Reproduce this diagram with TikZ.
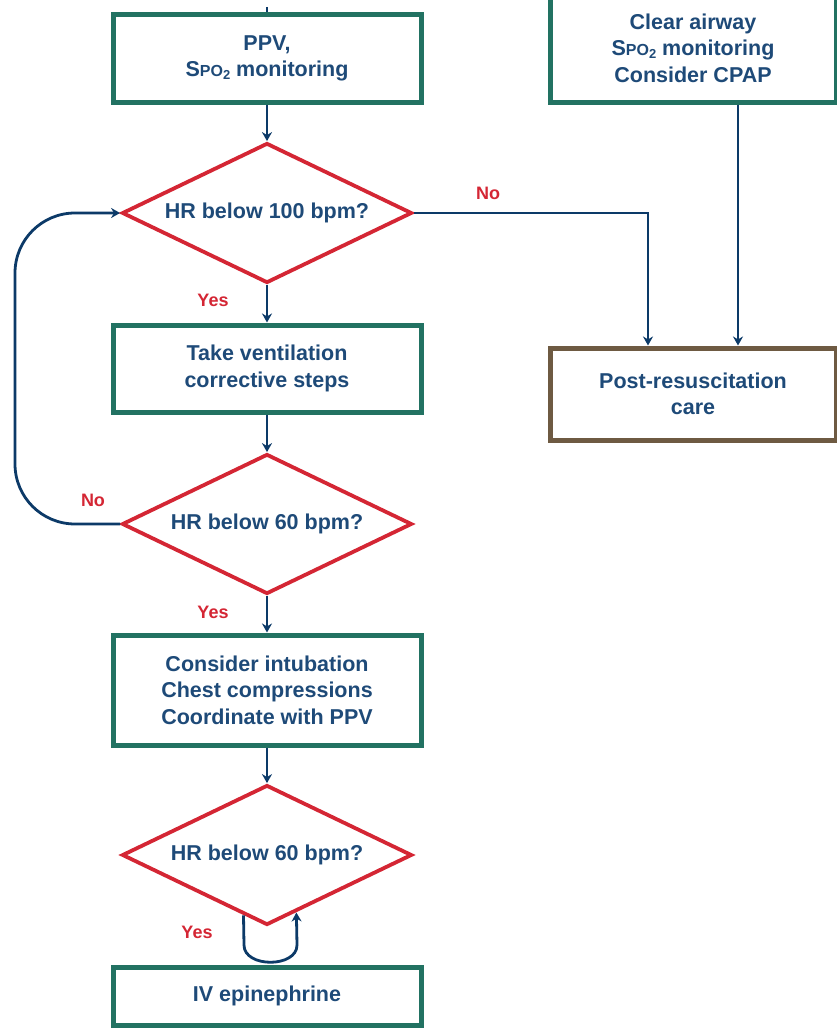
\documentclass[tikz,border=0pt]{standalone}
\usepackage{fontspec}
\setmainfont{Liberation Sans}
\usepackage{pgf,tikz}
\usetikzlibrary{calc}
\usetikzlibrary{positioning}
\usetikzlibrary{shapes.geometric}
\usetikzlibrary{arrows.meta}
\usepackage{xcolor}
\definecolor{boxteal}{RGB}{34,114,98}
\definecolor{boxbrown}{RGB}{110,90,66}
\definecolor{askred}{RGB}{212,38,52}
\definecolor{txtblue}{RGB}{30,74,120}
\definecolor{lineblue}{RGB}{12,58,104}
\newcommand{\spotwo}{S{\fontsize{16}{16}\selectfont PO\raisebox{-3pt}{\fontsize{13}{13}\selectfont 2}}}

\begin{document}
\begin{tikzpicture}[x=1pt,y=-1pt,
   actbox/.style={draw=boxteal,line width=5pt,minimum width=308pt,align=center,
      text=txtblue,font=\fontsize{21.5}{26.5}\selectfont\bfseries},
   carebox/.style={actbox,draw=boxbrown,minimum width=286pt},
   query/.style={diamond,aspect=2,draw=askred,line width=3.8pt,inner sep=0pt,
      minimum width=290pt,minimum height=140pt,text=txtblue,
      font=\fontsize{21.5}{26}\selectfont\bfseries},
   flow/.style={draw=lineblue,line width=2.8pt,-{Stealth[length=9pt,width=10pt]}},
   ans/.style={text=askred,font=\fontsize{18}{18}\selectfont\bfseries}]
   \useasboundingbox (0,0) rectangle (837,1033);

   \node[actbox,minimum height=87pt] (ppv) at (267,58.5) {PPV,\\ \spotwo{} monitoring};
   \node[actbox,minimum width=286pt,minimum height=108pt] (clear) at (693,48) {Clear airway\\ \spotwo{} monitoring\\ Consider CPAP};
   \node[query] (hr1) at (267,213) {HR below 100 bpm?};
   \node[actbox,minimum height=87pt] (vent) at (267,368.5) {Take ventilation\\ corrective steps};
   \node[carebox,minimum height=92pt] (post) at (693,394) {Post-resuscitation\\ care};
   \node[query] (hr2) at (267,524) {HR below 60 bpm?};
   \node[actbox,minimum height=110pt] (comp) at (267,690) {Consider intubation\\ Chest compressions\\ Coordinate with PPV};
   \node[query] (hr3) at (267,855) {HR below 60 bpm?};
   \node[actbox,minimum height=58pt] (epi) at (267,996) {IV epinephrine};

   \node[ans] (no1) at (488,193) {No};
   \node[ans] (yes1) at (213,300) {Yes};
   \node[ans] (no2) at (93,500) {No};
   \node[ans] (yes2) at (213,612) {Yes};
   \node[ans] (yes3) at (197,932) {Yes};

   \coordinate (top) at (267,7);
   \draw[lineblue,line width=2.8pt] (top) -- (ppv.north);
   \draw[flow] (ppv) -- (hr1);
   \draw[flow] (hr1) -- (vent);
   \draw[flow] (vent) -- (hr2);
   \draw[flow] (hr2) -- (comp);
   \draw[flow] (comp) -- (hr3);
   \draw[flow] (hr1.east) -| ([xshift=-45pt]post.north);
   \draw[flow] ([xshift=45pt]clear.south) -- ([xshift=45pt]post.north);
   \draw[flow,rounded corners=60pt] (hr2.west) -- (15,524) -- (15,213) -- (hr1.west);

   \coordinate (lp) at ($(hr3.south)!0.16!(hr3.west)$);
   \coordinate (rp) at ($(hr3.south)!0.2!(hr3.east)$);
   \coordinate (lb) at (244,945);
   \coordinate (rb) at (297,945);
   \draw[flow] (lp) -- (lb) .. controls (244,968) and (297,968) .. (rb) -- (rp);
\end{tikzpicture}
\end{document}
